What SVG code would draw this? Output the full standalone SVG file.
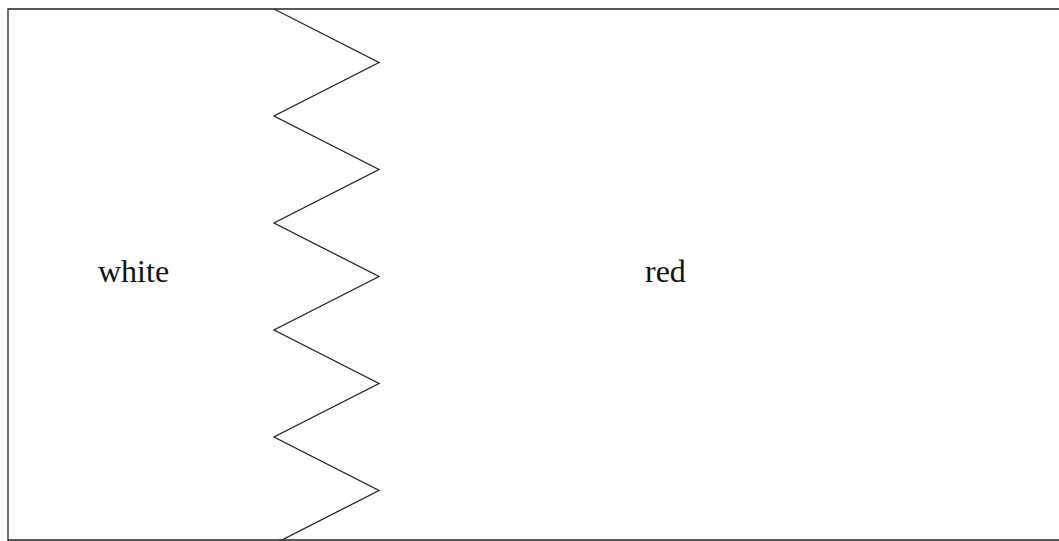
<svg xmlns="http://www.w3.org/2000/svg" width="1059" height="541" viewBox="0 0 1059 541">
<style>
.ln{fill:none;stroke:#222;stroke-width:1.3;stroke-linejoin:miter}
.lbl{font-family:"Liberation Serif","Times New Roman",serif;font-size:32px;fill:#111}
</style>
<rect x="0" y="0" width="1059" height="541" fill="#fff"/>
<g id="frame">
<polyline class="ln" points="1062,9 8,9 8,545"/>
<line class="ln" x1="8" y1="540" x2="1062" y2="540"/>
</g>
<g id="zigzag">
<polyline class="ln" points="274,9 379,62.5 274,116 379,169.5 274,223 379,276.5 274,330 379,383.5 274,437 379,490.5 274,544"/>
</g>
<g id="white"><text class="lbl" x="98" y="282">white</text></g>
<g id="red"><text class="lbl" x="645" y="282">red</text></g>
</svg>
